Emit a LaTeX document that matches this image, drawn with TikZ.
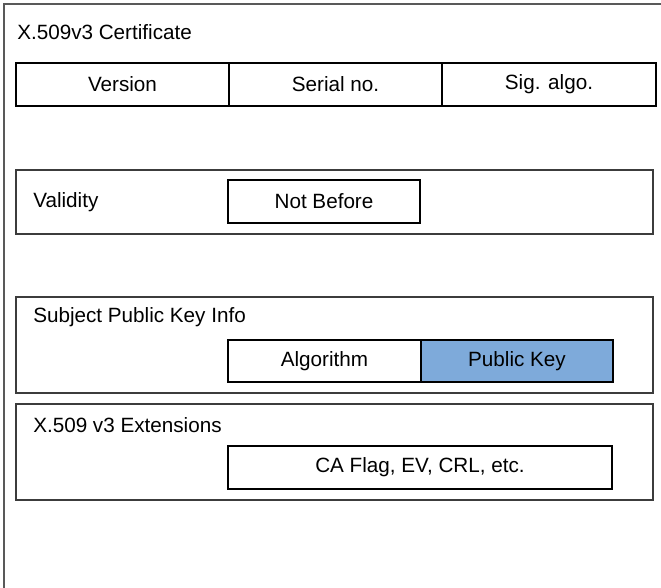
\documentclass[tikz,border=0pt]{standalone}
\usepackage{fontspec}
\setmainfont{Liberation Sans}
\usetikzlibrary{positioning}

\definecolor{keyblue}{RGB}{126,170,218}
\definecolor{edgegray}{RGB}{60,60,60}

\tikzset{
  group/.style={draw=edgegray, line width=1pt},
  cell/.style={draw=black, line width=1pt, inner sep=0pt, outer sep=0pt,
    minimum height=32.25pt, font=\fontsize{15.5}{18}\selectfont},
  label/.style={anchor=west, inner sep=0pt, font=\fontsize{15.5}{18}\selectfont},
}

\begin{document}
\begin{tikzpicture}[x=0.75pt, y=-0.75pt]
        \useasboundingbox (0,0) rectangle (661,587);
        \clip (0,0) rectangle (661,587);
        % certificate frame, cut off at right and bottom
        \draw[draw=black!65, line width=1pt] (4,600) -- (4,4) -- (680,4);
        \node[label] (cert) at (17,32) {X.509v3 Certificate};

        % first row
        \node[cell, minimum width=159.75pt] (version) at (122.5,84.5) {Version};
        \node[cell, minimum width=159.75pt, right=0pt of version] (serial) {Serial no.};
        \node[cell, minimum width=160.5pt, right=0pt of serial] (sigalgo) {\raisebox{2pt}{Sig. algo.}};

        % validity
        \draw[group] (16,170) rectangle (653,234);
        \node[label] (validity) at (33,202) {Validity};
        \node[cell, minimum width=144pt] (notbefore) at (324,201.5) {Not Before};

        % subject public key info
        \draw[group] (16,297) rectangle (653,393);
        \node[label] (spki) at (33,317) {Subject Public Key Info};
        \node[cell, minimum width=144.75pt, minimum height=31.5pt] (algorithm) at (324.5,361) {Algorithm};
        \node[cell, fill=keyblue, minimum width=144pt, minimum height=31.5pt, right=0pt of algorithm] (pubkey) {Public Key};

        % extensions
        \draw[group] (16,404) rectangle (653,500);
        \node[label] (ext) at (33,425) {X.509 v3 Extensions};
        \node[cell, minimum width=288pt] (caflag) at (420,467.5) {CA Flag, EV, CRL, etc.};
\end{tikzpicture}
\end{document}
